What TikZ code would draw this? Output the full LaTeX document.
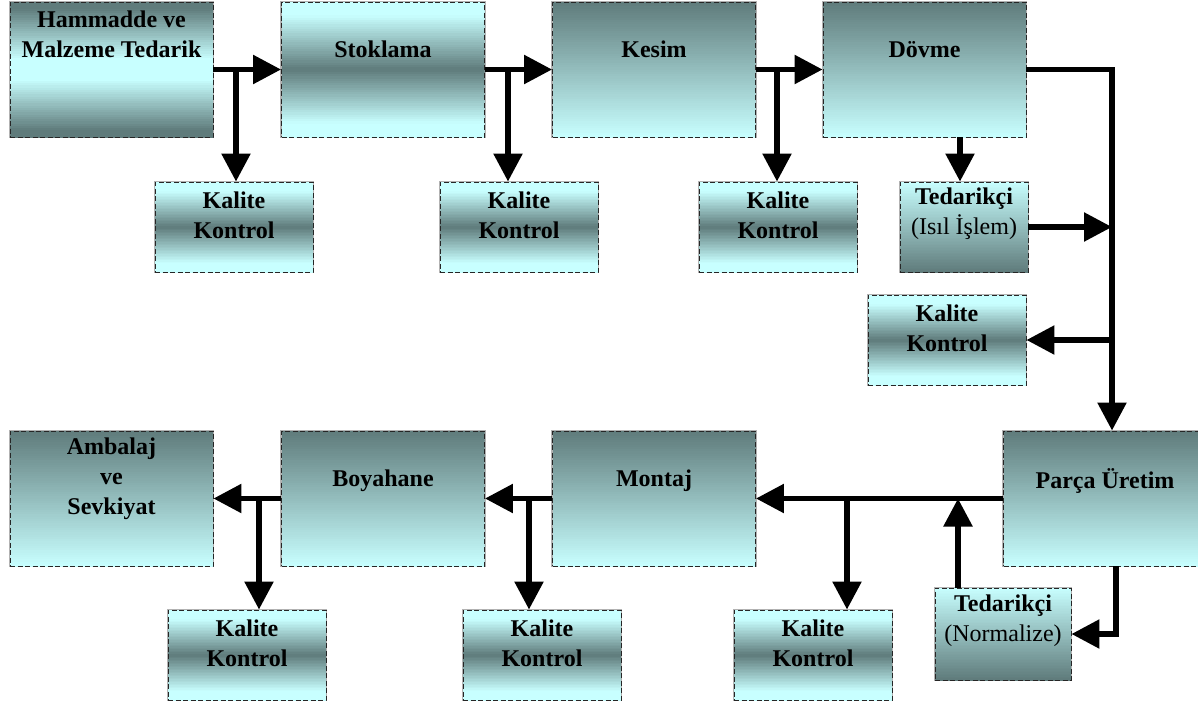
\documentclass[tikz,border=0pt]{standalone}
\usepackage{fontspec}
\setmainfont{Liberation Serif}
\usetikzlibrary{arrows.meta,calc}
\definecolor{dk}{RGB}{95,123,123}
\definecolor{lt}{RGB}{200,255,255}
\newcommand\boxfont{\fontsize{24}{30}\selectfont}
\tikzset{
  frame/.style={rectangle, inner sep=0pt,
    preaction={draw=gray!60, solid, line width=2.6pt},
    draw=black!85, dash pattern=on 5pt off 2.5pt, line width=0.9pt},
  bigbox/.style={frame, minimum width=203pt, minimum height=135pt},
  smallbox/.style={frame, minimum width=158pt, minimum height=90pt},
  % vertical colour ramp built from thin bands; #1 gives the share of dk
  % (0..100) as a function of \gradt, which runs from 0 at the top to 1 at the bottom
  ramp/.style={path picture={
    \foreach \i in {0,...,59}{
      \pgfmathsetmacro\gradt{(\i+0.5)/60}
      \pgfmathsetmacro\gradp{max(0,min(100,#1))}
      \pgfmathsetmacro\grada{\i/60}
      \pgfmathsetmacro\gradb{(\i+1.4)/60}
      \fill[dk!\gradp!lt]
        ($(path picture bounding box.north west)!\grada!(path picture bounding box.south west)$)
        rectangle
        ($(path picture bounding box.north east)!\gradb!(path picture bounding box.south east)$);
    }
  }},
  darktop/.style={ramp={100*(1-\gradt)}},
  lighttop/.style={ramp={100*\gradt}},
  darkmid/.style={ramp={100*(1-abs(2*\gradt-1)/0.8)}},
  lightmid/.style={ramp={100*(abs(2*\gradt-1)-0.15)/0.75}},
  txt/.style={font=\boxfont, align=center, anchor=center, inner sep=0pt},
  arr/.style={line width=5.5pt, -{Triangle[length=28pt,width=28pt]}},
}
\begin{document}
\begin{tikzpicture}[x=1pt,y=-1pt]
\useasboundingbox (0,0) rectangle (1198,704);
\clip (0,0) rectangle (1198,704);

% main process steps, upper row
\node[bigbox, lightmid, label={[txt, yshift=-33pt]north:\textbf{Hammadde ve}\\\textbf{Malzeme Tedarik}}] (hm) at (111.5,69.5) {};
\node[bigbox, darkmid, label={[txt, yshift=-48pt]north:\textbf{Stoklama}}] (st) at (383,69.5) {};
\node[bigbox, darktop, label={[txt, yshift=-48pt]north:\textbf{Kesim}}] (ke) at (654,69.5) {};
\node[bigbox, darktop, label={[txt, yshift=-48pt]north:\textbf{Dövme}}] (do) at (924.5,69.5) {};

% main process steps, lower row
\node[bigbox, darktop, label={[txt, yshift=-48pt]north:\textbf{Ambalaj}\\\textbf{ve}\\\textbf{Sevkiyat}}] (am) at (111.5,498.5) {};
\node[bigbox, darktop, label={[txt, yshift=-50pt]north:\textbf{Boyahane}}] (bo) at (383,498.5) {};
\node[bigbox, darktop, label={[txt, yshift=-50pt]north:\textbf{Montaj}}] (mo) at (654,498.5) {};
\node[bigbox, darktop, label={[txt, yshift=-50pt]north:\textbf{Parça Üretim}}] (pa) at (1105,498.5) {};

% quality control stations
\node[smallbox, darkmid, label={[txt, yshift=-33.5pt]north:\textbf{Kalite}\\\textbf{Kontrol}}] (k1) at (234,227) {};
\node[smallbox, darkmid, label={[txt, yshift=-33.5pt]north:\textbf{Kalite}\\\textbf{Kontrol}}] (k2) at (519,227) {};
\node[smallbox, darkmid, label={[txt, yshift=-33.5pt]north:\textbf{Kalite}\\\textbf{Kontrol}}] (k3) at (778,227) {};
\node[smallbox, darkmid, label={[txt, yshift=-33.5pt]north:\textbf{Kalite}\\\textbf{Kontrol}}] (k4) at (947,340) {};
\node[smallbox, darkmid, label={[txt, yshift=-33.5pt]north:\textbf{Kalite}\\\textbf{Kontrol}}] (k5) at (247,655) {};
\node[smallbox, darkmid, label={[txt, yshift=-33.5pt]north:\textbf{Kalite}\\\textbf{Kontrol}}] (k6) at (542,655) {};
\node[smallbox, darkmid, label={[txt, yshift=-33.5pt]north:\textbf{Kalite}\\\textbf{Kontrol}}] (k7) at (813,655) {};

% external suppliers
\node[frame, lighttop, minimum width=128pt, minimum height=90pt,
  label={[txt, yshift=-32.5pt]north:\textbf{Tedarikçi}\\(Isıl İşlem)}] (te1) at (964,227) {};
\node[frame, lighttop, minimum width=136pt, minimum height=92pt,
  label={[txt, yshift=-33.5pt]north:\textbf{Tedarikçi}\\(Normalize)}] (te2) at (1003,634) {};

% branch points
\coordinate (j1) at (236,0);
\coordinate (j2) at (508,0);
\coordinate (j3) at (777,0);
\coordinate (dx) at (960,0);
\coordinate (rv) at (1112,69.5);
\coordinate (j5) at (847,0);
\coordinate (ux) at (958,0);
\coordinate (px) at (1116,0);
\coordinate (j6) at (529,0);
\coordinate (j7) at (259,0);

% upper row flow
\draw[arr] (hm.east) -- (st.west);
\draw[arr] (j1 |- hm.east) -- (j1 |- k1.north);
\draw[arr] (st.east) -- (ke.west);
\draw[arr] (j2 |- st.east) -- (j2 |- k2.north);
\draw[arr] (ke.east) -- (do.west);
\draw[arr] (j3 |- ke.east) -- (j3 |- k3.north);
\draw[arr] (dx |- do.south) -- (dx |- te1.north);
\draw[arr] (do.east) -- (rv) -- (rv |- pa.north);
\draw[arr] (te1.east) -- (te1.east -| rv);
\draw[arr] (k4.east -| rv) -- (k4.east);

% lower row flow
\draw[arr] (pa.west) -- (mo.east);
\draw[arr] (j5 |- pa.west) -- (j5 |- k7.north);
\draw[arr] (ux |- te2.north) -- (ux |- pa.west);
\draw[arr] (px |- pa.south) -- (px |- te2.east) -- (te2.east);
\draw[arr] (mo.west) -- (bo.east);
\draw[arr] (j6 |- mo.west) -- (j6 |- k6.north);
\draw[arr] (bo.west) -- (am.east);
\draw[arr] (j7 |- bo.west) -- (j7 |- k5.north);
\end{tikzpicture}
\end{document}
